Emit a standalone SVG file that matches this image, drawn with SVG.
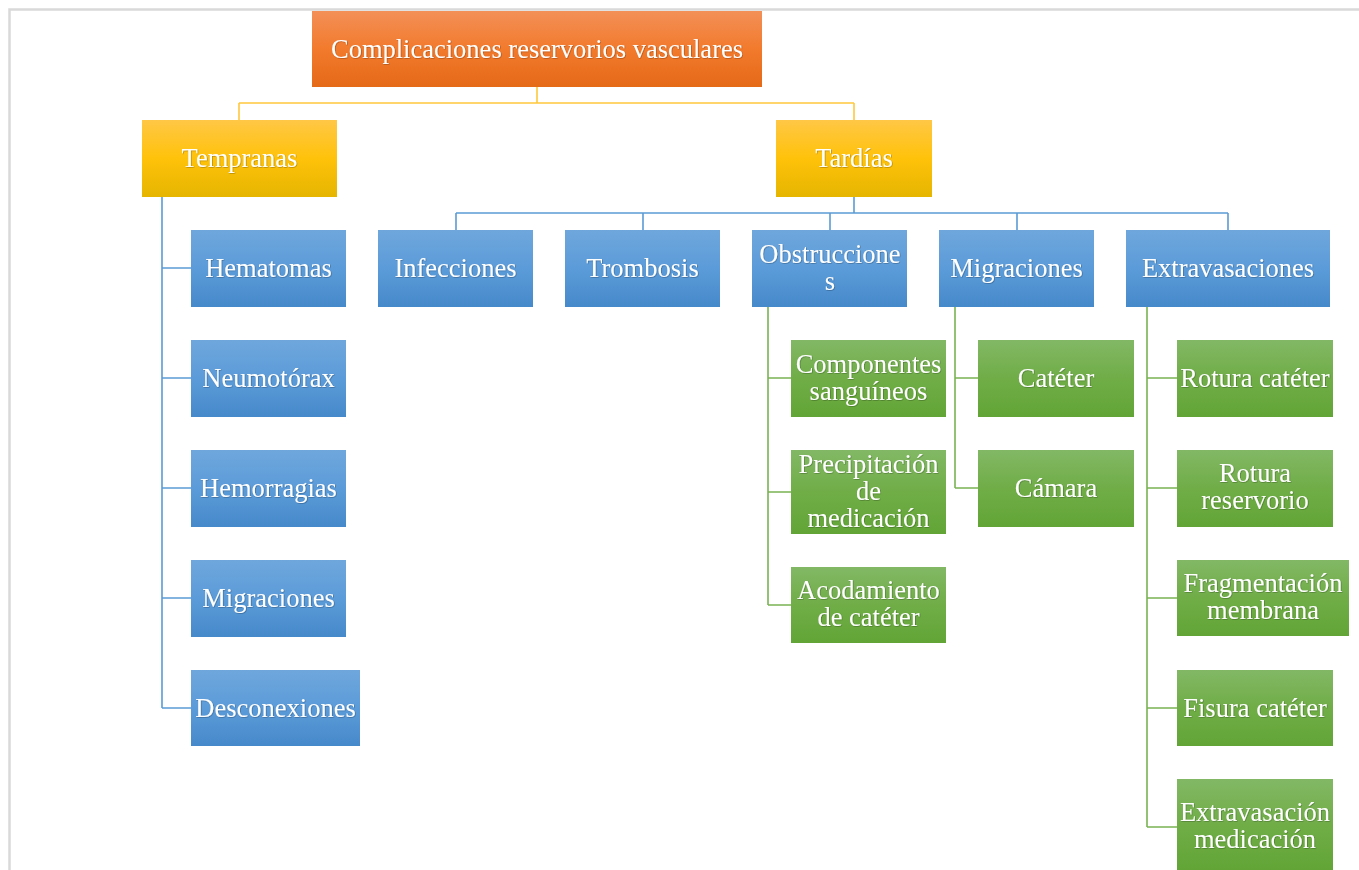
<svg xmlns="http://www.w3.org/2000/svg" width="1359" height="870" viewBox="0 0 1359 870">
<defs>
<linearGradient id="gOr" x1="0" y1="0" x2="0" y2="1"><stop offset="0" stop-color="#F39058"/><stop offset="0.5" stop-color="#F27A2C"/><stop offset="1" stop-color="#E56A18"/></linearGradient>
<linearGradient id="gYe" x1="0" y1="0" x2="0" y2="1"><stop offset="0" stop-color="#FFC746"/><stop offset="0.5" stop-color="#FFC20A"/><stop offset="1" stop-color="#E5B500"/></linearGradient>
<linearGradient id="gBl" x1="0" y1="0" x2="0" y2="1"><stop offset="0" stop-color="#6FA7DC"/><stop offset="0.5" stop-color="#5B9BD9"/><stop offset="1" stop-color="#4689CA"/></linearGradient>
<linearGradient id="gGr" x1="0" y1="0" x2="0" y2="1"><stop offset="0" stop-color="#82B865"/><stop offset="0.5" stop-color="#70AD47"/><stop offset="1" stop-color="#62A536"/></linearGradient>
<filter id="sh" x="-5%" y="-20%" width="110%" height="140%"><feDropShadow dx="0.6" dy="0.6" stdDeviation="0.4" flood-color="#000" flood-opacity="0.35"/></filter>
</defs>
<style>
text{font-family:"Liberation Serif","Times New Roman",serif;font-size:26.5px;fill:#fff;text-anchor:middle;filter:url(#sh)}
.or{fill:url(#gOr)}.ye{fill:url(#gYe)}.bl{fill:url(#gBl)}.gr{fill:url(#gGr)}
.cy{stroke:#FFC83C;stroke-width:1.6;fill:none}
.cb{stroke:#5B9BD5;stroke-width:1.6;fill:none}
.cg{stroke:#7AB353;stroke-width:1.6;fill:none}
.frame{stroke:#D9D9D9;stroke-width:2.5;fill:none}
</style>
<rect width="1359" height="870" fill="#fff"/>
<path class="frame" d="M9.5 870 V9.5 H1359"/>
<g id="connectors">
<path class="cy" d="M537 87 V103 M239 103 H854 M239 103 V120 M854 103 V120"/>
<path class="cb" d="M162 197 V708 M162 268 H191 M162 378 H191 M162 488 H191 M162 598 H191 M162 708 H191"/>
<path class="cb" d="M854 197 V213 M456 213 H1228 M456 213 V230 M643 213 V230 M830 213 V230 M1017 213 V230 M1228 213 V230"/>
<path class="cg" d="M768 307 V605 M768 378 H791 M768 492 H791 M768 605 H791"/>
<path class="cg" d="M955 307 V488 M955 378 H978 M955 488 H978"/>
<path class="cg" d="M1147 307 V827 M1147 378 H1177 M1147 488 H1177 M1147 598 H1177 M1147 708 H1177 M1147 827 H1177"/>
</g>
<g id="root"><rect class="or" x="312" y="11" width="450" height="76"/><text x="537" y="58">Complicaciones reservorios vasculares</text></g>
<g id="tempranas"><rect class="ye" x="142" y="120" width="195" height="77"/><text x="239.5" y="167">Tempranas</text></g>
<g id="tardias"><rect class="ye" x="776" y="120" width="156" height="77"/><text x="854" y="167">Tardías</text></g>
<g id="hematomas"><rect class="bl" x="191" y="230" width="155" height="77"/><text x="268.5" y="277">Hematomas</text></g>
<g id="neumotorax"><rect class="bl" x="191" y="340" width="155" height="77"/><text x="268.5" y="387">Neumotórax</text></g>
<g id="hemorragias"><rect class="bl" x="191" y="450" width="155" height="77"/><text x="268.5" y="497">Hemorragias</text></g>
<g id="migraciones1"><rect class="bl" x="191" y="560" width="155" height="77"/><text x="268.5" y="607">Migraciones</text></g>
<g id="desconexiones"><rect class="bl" x="191" y="670" width="169" height="76"/><text x="275.5" y="717">Desconexiones</text></g>
<g id="infecciones"><rect class="bl" x="378" y="230" width="155" height="77"/><text x="455.5" y="277">Infecciones</text></g>
<g id="trombosis"><rect class="bl" x="565" y="230" width="155" height="77"/><text x="642.5" y="277">Trombosis</text></g>
<g id="obstrucciones"><rect class="bl" x="752" y="230" width="155" height="77"/><text x="830" y="263">Obstruccione</text><text x="830" y="290">s</text></g>
<g id="migraciones2"><rect class="bl" x="939" y="230" width="155" height="77"/><text x="1016.5" y="277">Migraciones</text></g>
<g id="extravasaciones"><rect class="bl" x="1126" y="230" width="204" height="77"/><text x="1228" y="277">Extravasaciones</text></g>
<g id="componentes"><rect class="gr" x="791" y="340" width="155" height="77"/><text x="868.5" y="373">Componentes</text><text x="868.5" y="400">sanguíneos</text></g>
<g id="precipitacion"><rect class="gr" x="791" y="450" width="155" height="84"/><text x="868.5" y="473">Precipitación</text><text x="868.5" y="500">de</text><text x="868.5" y="527">medicación</text></g>
<g id="acodamiento"><rect class="gr" x="791" y="567" width="155" height="76"/><text x="868.5" y="599">Acodamiento</text><text x="868.5" y="626">de catéter</text></g>
<g id="cateter"><rect class="gr" x="978" y="340" width="156" height="77"/><text x="1056" y="387">Catéter</text></g>
<g id="camara"><rect class="gr" x="978" y="450" width="156" height="77"/><text x="1056" y="497">Cámara</text></g>
<g id="rotura-cateter"><rect class="gr" x="1177" y="340" width="156" height="77"/><text x="1255" y="387">Rotura catéter</text></g>
<g id="rotura-reservorio"><rect class="gr" x="1177" y="450" width="156" height="77"/><text x="1255" y="482">Rotura</text><text x="1255" y="509">reservorio</text></g>
<g id="fragmentacion"><rect class="gr" x="1177" y="560" width="172" height="76"/><text x="1263" y="592">Fragmentación</text><text x="1263" y="619">membrana</text></g>
<g id="fisura"><rect class="gr" x="1177" y="670" width="156" height="76"/><text x="1255" y="717">Fisura catéter</text></g>
<g id="extravasacion-med"><rect class="gr" x="1177" y="779" width="156" height="91"/><text x="1255" y="821">Extravasación</text><text x="1255" y="848">medicación</text></g>
</svg>
